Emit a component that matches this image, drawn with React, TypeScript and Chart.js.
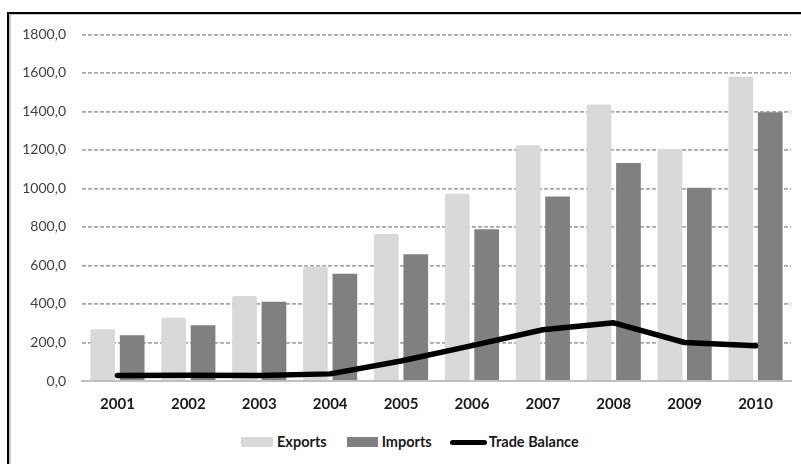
import React, { useEffect, useRef } from "react";
import { Chart, registerables } from "chart.js";

Chart.register(...registerables);

const years = ["2001", "2002", "2003", "2004", "2005", "2006", "2007", "2008", "2009", "2010"];
const exportsValues = [269, 328, 441, 594, 764, 972, 1224, 1436, 1205, 1580];
const importsValues = [238, 290, 411, 557, 658, 788, 958, 1132, 1004, 1396];
const tradeBalanceValues = [28, 30, 28, 37, 104, 184, 266, 302, 200, 183];

const FONT = 'Lato, "Open Sans", sans-serif';
const EXPORTS_COLOR = "#d9d9d9";
const IMPORTS_COLOR = "#808080";
const BALANCE_COLOR = "#000000";

const formatTick = (v: number) => v.toFixed(1).replace(".", ",");

export default function App() {
  const canvasRef = useRef<HTMLCanvasElement | null>(null);

  useEffect(() => {
    if (!canvasRef.current) return;
    const chart = new Chart(canvasRef.current, {
      type: "bar",
      data: {
        labels: years,
        datasets: [
          {
            type: "line",
            label: "Trade Balance",
            data: tradeBalanceValues,
            borderColor: BALANCE_COLOR,
            backgroundColor: BALANCE_COLOR,
            borderWidth: 5.5,
            borderCapStyle: "round",
            borderJoinStyle: "round",
            pointRadius: 0,
            tension: 0,
            order: 0,
          },
          {
            type: "bar",
            label: "Exports",
            data: exportsValues,
            backgroundColor: EXPORTS_COLOR,
            borderRadius: { topLeft: 2, topRight: 2, bottomLeft: 0, bottomRight: 0 },
            borderSkipped: false,
            categoryPercentage: 0.83,
            barPercentage: 0.84,
            order: 1,
          },
          {
            type: "bar",
            label: "Imports",
            data: importsValues,
            backgroundColor: IMPORTS_COLOR,
            categoryPercentage: 0.83,
            barPercentage: 0.84,
            order: 1,
          },
        ],
      },
      options: {
        responsive: false,
        animation: false,
        devicePixelRatio: 1,
        layout: { padding: { top: 15, right: 10, bottom: 0, left: 0 } },
        plugins: {
          legend: { display: false },
          tooltip: { enabled: false },
        },
        scales: {
          x: {
            grid: { display: false, drawTicks: false },
            border: { display: true, color: "#c0c0c0", width: 2 },
            ticks: {
              color: "#1a1a1a",
              padding: 14,
              font: { family: FONT, size: 15, weight: "bold" },
            },
            afterFit: (scale: any) => {
              scale.height = 40;
            },
          },
          y: {
            min: 0,
            max: 1800,
            grid: {
              drawTicks: false,
              color: (ctx: any) => (ctx.tick && ctx.tick.value === 0 ? "rgba(0,0,0,0)" : "#a6a6a6"),
              lineWidth: 1.8,
            },
            // dashed horizontal grid lines
            border: { display: false, dash: [4, 2] },
            ticks: {
              stepSize: 200,
              color: "#404040",
              padding: 16,
              font: { family: FONT, size: 14 },
              callback: (v: any) => formatTick(Number(v)),
            },
            afterFit: (scale: any) => {
              scale.width = 72;
            },
          },
        },
      },
    } as any);
    return () => chart.destroy();
  }, []);

  const legendText: React.CSSProperties = {
    fontFamily: FONT,
    fontWeight: 700,
    fontSize: 14.5,
    color: "#1a1a1a",
    lineHeight: "16px",
  };

  return (
    <div
      style={{
        position: "fixed",
        left: 0,
        top: 0,
        width: 801,
        height: 464,
        overflow: "hidden",
        background: "#ffffff",
      }}
    >
      <div
        style={{
          position: "absolute",
          left: 7,
          top: 12,
          width: 900,
          height: 600,
          borderTop: "2px solid #000",
          borderLeft: "2px solid #000",
          boxShadow: "inset 2px 1px 0 #c8c8c8",
        }}
      />
      <canvas
        ref={canvasRef}
        width={791}
        height={411}
        style={{ position: "absolute", left: 10, top: 10, width: 791, height: 411 }}
      />
      <div
        style={{
          position: "absolute",
          left: 241,
          top: 433,
          display: "flex",
          alignItems: "center",
          height: 18,
        }}
      >
        <span style={{ display: "inline-block", width: 32, height: 10, background: EXPORTS_COLOR }} />
        <span style={{ ...legendText, marginLeft: 4 }}>Exports</span>
        <span style={{ display: "inline-block", width: 31, height: 10, background: IMPORTS_COLOR, marginLeft: 20 }} />
        <span style={{ ...legendText, marginLeft: 4 }}>Imports</span>
        <span
          style={{
            display: "inline-block",
            width: 37,
            height: 5,
            borderRadius: 3,
            background: BALANCE_COLOR,
            marginLeft: 18,
          }}
        />
        <span style={{ ...legendText, marginLeft: 2 }}>Trade Balance</span>
      </div>
    </div>
  );
}
